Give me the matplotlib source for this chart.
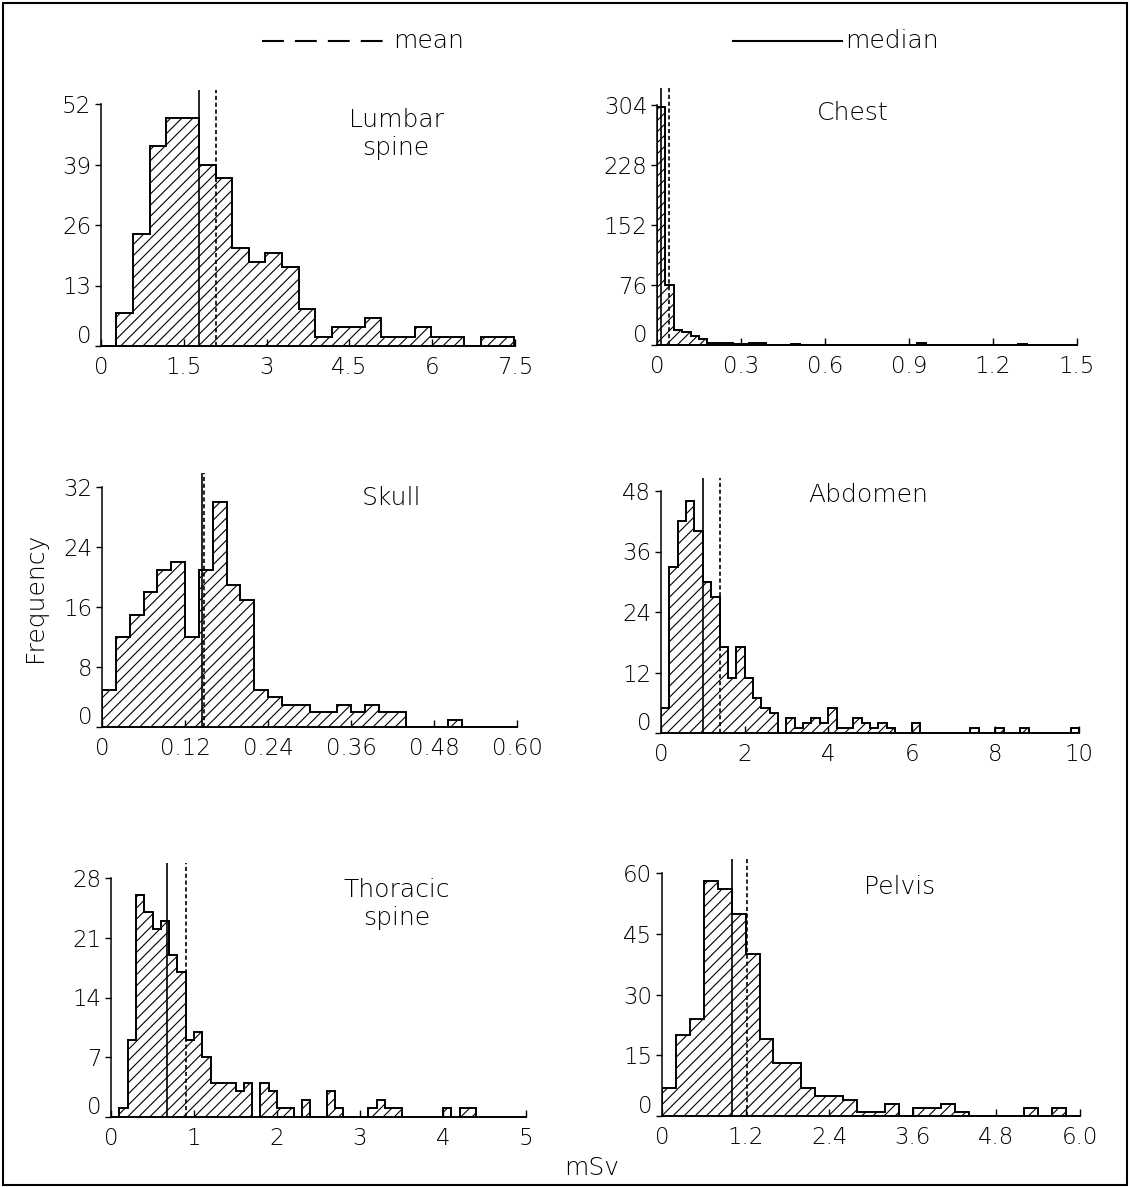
import numpy as np
import matplotlib
matplotlib.use("Agg")
import matplotlib.pyplot as plt
from matplotlib.patches import Rectangle
from matplotlib.lines import Line2D

plt.rcParams['font.family'] = ['DejaVu Sans']
plt.rcParams['font.weight'] = 'light'
plt.rcParams['hatch.linewidth'] = 0.8
plt.rcParams['hatch.color'] = 'black'

W, H = 1130, 1187

# ---- data (frequency per dose bin, mSv) ----
lumbar_edges = 0.28 + 0.3 * np.arange(25)
lumbar_counts = [7, 24, 43, 49, 49, 39, 36, 21, 18, 20, 17, 8,
                 2, 4, 4, 6, 2, 2, 4, 2, 2, 0, 2, 2]
lumbar_mean, lumbar_median = 2.08, 1.78

chest_edges = 0.03 * np.arange(51)
chest_counts = [302, 76, 19, 16, 12, 7, 2, 3, 3, 1, 1, 2, 2, 0, 0, 0, 1, 0, 0, 0,
                0, 0, 0, 0, 0, 0, 0, 0, 0, 0, 0, 3, 0, 0, 0, 0, 0, 0, 0, 0,
                0, 0, 0, 1, 0, 0, 0, 0, 0, 0]
chest_mean, chest_median = 0.042, 0.013

skull_edges = 0.02 * np.arange(31)
skull_counts = [5, 12, 15, 18, 21, 22, 12, 21, 30, 19, 17, 5, 4, 3, 3,
                2, 2, 3, 2, 3, 2, 2, 0, 0, 0, 1, 0, 0, 0, 0]
skull_mean, skull_median = 0.147, 0.144

abdomen_edges = 0.2 * np.arange(51)
abdomen_counts = [5, 33, 42, 46, 40, 30, 27, 17, 11, 17, 11, 7, 5, 4, 0, 3, 1, 2, 3, 2,
                  5, 1, 1, 3, 2, 1, 2, 1, 0, 0, 2, 0, 0, 0, 0, 0, 0, 1, 0, 0,
                  1, 0, 0, 1, 0, 0, 0, 0, 0, 1]
abdomen_mean, abdomen_median = 1.41, 1.0

thoracic_edges = 0.1 * np.arange(51)
thoracic_counts = [0, 1, 9, 26, 24, 22, 23, 19, 17, 9, 10, 7, 4, 4, 4, 3, 4, 0, 4, 3,
                   1, 1, 0, 2, 0, 0, 3, 1, 0, 0, 0, 1, 2, 1, 1, 0, 0, 0, 0, 0,
                   1, 0, 1, 1, 0, 0, 0, 0, 0, 0]
thoracic_mean, thoracic_median = 0.90, 0.68

pelvis_edges = 0.2 * np.arange(31)
pelvis_counts = [7, 20, 24, 58, 56, 50, 40, 19, 13, 13, 7, 5, 5, 4, 1,
                 1, 3, 0, 2, 2, 3, 1, 0, 0, 0, 0, 2, 0, 2, 0]
pelvis_mean, pelvis_median = 1.22, 1.0

lumbar_xticks = [0, 1.5, 3, 4.5, 6, 7.5]
lumbar_xlabels = ['0', '1.5', '3', '4.5', '6', '7.5']
chest_xticks = [0, 0.3, 0.6, 0.9, 1.2, 1.5]
chest_xlabels = ['0', '0.3', '0.6', '0.9', '1.2', '1.5']
skull_xticks = [0, 0.12, 0.24, 0.36, 0.48, 0.60]
skull_xlabels = ['0', '0.12', '0.24', '0.36', '0.48', '0.60']
abdomen_xticks = [0, 2, 4, 6, 8, 10]
abdomen_xlabels = ['0', '2', '4', '6', '8', '10']
thoracic_xticks = [0, 1, 2, 3, 4, 5]
thoracic_xlabels = ['0', '1', '2', '3', '4', '5']
pelvis_xticks = [0, 1.2, 2.4, 3.6, 4.8, 6.0]
pelvis_xlabels = ['0', '1.2', '2.4', '3.6', '4.8', '6.0']

lumbar_yticks = [0, 13, 26, 39, 52]
chest_yticks = [0, 76, 152, 228, 304]
skull_yticks = [0, 8, 16, 24, 32]
abdomen_yticks = [0, 12, 24, 36, 48]
thoracic_yticks = [0, 7, 14, 21, 28]
pelvis_yticks = [0, 15, 30, 45, 60]


def fx(x):
    return x / W


def fy(y):
    return 1 - y / H


def draw_panel(box, edges, counts, mean, median, xticks, xlabels, yticks,
               title, title_xy):
    # box: pixel x of 0, pixel x of xmax, baseline y, top-tick y, line-top y
    x0, x1, ybase, ytop, yline = box
    ax = fig.add_axes([fx(x0), fy(ybase), (x1 - x0) / W, (ybase - yline) / H])
    ax.patch.set_alpha(0)
    ax.stairs(counts, edges, fill=True, facecolor='white', edgecolor='black',
              hatch='///', linewidth=1.4)
    ax.axvline(median, color='black', lw=1.2)
    ax.axvline(mean, color='black', lw=1.2, ls=(0, (2.5, 1.6)))
    ax.set_xlim(0, xticks[-1])
    ax.set_ylim(0, yticks[-1] * (ybase - yline) / (ybase - ytop))
    for s in ['top', 'right']:
        ax.spines[s].set_visible(False)
    ax.spines['left'].set_bounds(0, yticks[-1])
    ax.spines['left'].set_linewidth(1.1)
    ax.spines['bottom'].set_linewidth(1.4)
    ax.set_xticks(xticks)
    ax.set_xticklabels(xlabels)
    ax.set_yticks(yticks)
    ax.set_yticklabels([''] + [str(t) for t in yticks[1:]])
    ax.tick_params(axis='x', direction='in', length=5, width=1, labelsize=16.5, pad=7)
    ax.tick_params(axis='y', direction='out', length=4, width=1, labelsize=16.5, pad=3)
    ax.annotate('0', xy=(0, 0), xycoords=ax.get_yaxis_transform(),
                xytext=(-7, 6.5), textcoords='offset points',
                ha='right', va='center', fontsize=16.5)
    fig.text(fx(title_xy[0]), fy(title_xy[1]), title, ha='center', va='center',
             fontsize=18, linespacing=1.25)
    return ax


fig = plt.figure(figsize=(W / 100, H / 100), dpi=100)

draw_panel((101, 515, 346, 104, 90), lumbar_edges, lumbar_counts,
           lumbar_mean, lumbar_median, lumbar_xticks, lumbar_xlabels,
           lumbar_yticks, 'Lumbar\nspine', (396, 134))
draw_panel((657, 1077, 345, 105, 88), chest_edges, chest_counts,
           chest_mean, chest_median, chest_xticks, chest_xlabels,
           chest_yticks, 'Chest', (853, 113))
draw_panel((102, 517, 727, 487, 473), skull_edges, skull_counts,
           skull_mean, skull_median, skull_xticks, skull_xlabels,
           skull_yticks, 'Skull', (392, 498))
draw_panel((661, 1079, 733, 491, 478), abdomen_edges, abdomen_counts,
           abdomen_mean, abdomen_median, abdomen_xticks, abdomen_xlabels,
           abdomen_yticks, 'Abdomen', (868, 495))
draw_panel((111, 526, 1117, 878, 863), thoracic_edges, thoracic_counts,
           thoracic_mean, thoracic_median, thoracic_xticks, thoracic_xlabels,
           thoracic_yticks, 'Thoracic\nspine', (397, 904))
draw_panel((662, 1080, 1116, 873, 859), pelvis_edges, pelvis_counts,
           pelvis_mean, pelvis_median, pelvis_xticks, pelvis_xlabels,
           pelvis_yticks, 'Pelvis', (900, 887))

# legend along the top
fig.add_artist(Line2D([fx(262), fx(388)], [fy(41), fy(41)], transform=fig.transFigure,
                      color='black', lw=1.5, ls=(0, (10.5, 5.3))))
fig.text(fx(393), fy(41), 'mean', ha='left', va='center', fontsize=18)
fig.add_artist(Line2D([fx(733), fx(842)], [fy(41), fy(41)], transform=fig.transFigure,
                      color='black', lw=1.5))
fig.text(fx(845), fy(41), 'median', ha='left', va='center', fontsize=18)

fig.text(fx(35), fy(597), 'Frequency', rotation=90, ha='center', va='center', fontsize=18)
fig.text(fx(592), fy(1168), 'mSv', ha='center', va='center', fontsize=18)

fig.add_artist(Rectangle((fx(3), fy(1185)), 1124 / W, 1182 / H, fill=False,
                         lw=1.5, edgecolor='black', transform=fig.transFigure))

fig.savefig('out.png', dpi=100)
